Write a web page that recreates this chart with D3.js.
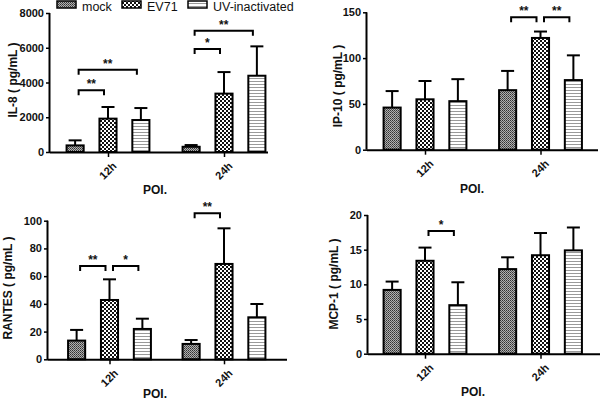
<!DOCTYPE html>
<html><head><meta charset="utf-8">
<script src="https://cdn.jsdelivr.net/npm/d3@7"></script>
<style>
html,body{margin:0;padding:0;background:#fff;}
svg text{font-family:"Liberation Sans",Arial,sans-serif;font-weight:bold;}
</style></head>
<body><svg id="c" width="600" height="400"></svg>
<script>
// ---- data ----
const groups = ["12h", "24h"];
const series = ["mock", "EV71", "UV-inactivated"];
// values [group][series]
const il8Mean  = [[380, 1920, 1840], [300, 3360, 4390]];
const il8Err   = [[670, 2590, 2530], [400, 4600, 6080]];
const ip10Mean = [[46, 55, 53], [65, 122, 76]];
const ip10Err  = [[64, 75, 77], [86, 129, 103]];
const rantesMean = [[13.5, 42.8, 21.9], [11.1, 68.8, 30.3]];
const rantesErr  = [[21.2, 57.7, 29.3], [13.9, 94.5, 39.9]];
const mcpMean = [[9.2, 13.4, 7.0], [12.2, 14.2, 14.9]];
const mcpErr  = [[10.4, 15.3, 10.3], [13.9, 17.4, 18.2]];
const il8Ticks = [0, 2000, 4000, 6000, 8000];
const ip10Ticks = [0, 50, 100, 150];
const rantesTicks = [0, 20, 40, 60, 80, 100];
const mcpTicks = [0, 5, 10, 15, 20];
// significance: [group index, series a, series b, level (data units), label]
const il8Sig = [[0, 0, 1, 3550, "**"], [0, 0, 2, 4740, "**"], [1, 0, 1, 5930, "*"], [1, 0, 2, 6980, "**"]];
const ip10Sig = [[1, 0, 1, 144.5, "**"], [1, 1, 2, 144.5, "**"]];
const rantesSig = [[0, 0, 1, 67.3, "**"], [0, 1, 2, 67.3, "*"], [1, 0, 1, 105.3, "**"]];
const mcpSig = [[0, 1, 2, 17.7, "*"]];
const xTitle = "POI.";

// ---- layout ----
const panels = [
  {title: "IL-8 ( pg/mL )", mean: il8Mean, err: il8Err, ticks: il8Ticks, sig: il8Sig,
   x0: 50, x1: 268, c: [108, 224], y0: 152, y1: 13, ymax: 8000, titleX: 13, titleY: 80, poiX: 155, poiY: 194},
  {title: "IP-10 ( pg/mL )", mean: ip10Mean, err: ip10Err, ticks: ip10Ticks, sig: ip10Sig,
   x0: 367, x1: 598, c: [425, 540.5], y0: 149.7, y1: 12.3, ymax: 150, titleX: 338, titleY: 86, poiX: 472, poiY: 193},
  {title: "RANTES ( pg/mL )", mean: rantesMean, err: rantesErr, ticks: rantesTicks, sig: rantesSig,
   x0: 48, x1: 287, c: [109.5, 224], y0: 359.3, y1: 220.7, ymax: 100, titleX: 8, titleY: 288, poiX: 155, poiY: 398},
  {title: "MCP-1 ( pg/mL )", mean: mcpMean, err: mcpErr, ticks: mcpTicks, sig: mcpSig,
   x0: 368, x1: 600, c: [425, 540.5], y0: 353.7, y1: 215, ymax: 20, titleX: 334, titleY: 284, poiX: 473, poiY: 396}
];

const svg = d3.select("#c");
const defs = svg.append("defs");
// patterns
const pMock = defs.append("pattern").attr("id", "p0").attr("patternUnits", "userSpaceOnUse").attr("width", 2).attr("height", 2);
pMock.append("rect").attr("width", 2).attr("height", 2).attr("fill", "#b0b0b0");
pMock.append("rect").attr("width", 1).attr("height", 1).attr("fill", "#333");
pMock.append("rect").attr("x", 1).attr("y", 1).attr("width", 1).attr("height", 1).attr("fill", "#555");
const pEv = defs.append("pattern").attr("id", "p1").attr("patternUnits", "userSpaceOnUse").attr("width", 4).attr("height", 4);
pEv.append("rect").attr("width", 4).attr("height", 4).attr("fill", "#fff");
pEv.append("rect").attr("width", 2).attr("height", 2).attr("fill", "#111");
pEv.append("rect").attr("x", 2).attr("y", 2).attr("width", 2).attr("height", 2).attr("fill", "#111");
const pUv = defs.append("pattern").attr("id", "p2").attr("patternUnits", "userSpaceOnUse").attr("width", 4).attr("height", 3);
pUv.append("rect").attr("width", 4).attr("height", 3).attr("fill", "#fff");
pUv.append("rect").attr("y", 0).attr("width", 4).attr("height", 1).attr("fill", "#999");
const fills = ["url(#p0)", "url(#p1)", "url(#p2)"];

panels.forEach(p => {
  const g = svg.append("g");
  const y = d3.scaleLinear().domain([0, p.ymax]).range([p.y0, p.y1]);
  const xg = d3.scalePoint().domain(groups).range(p.c);
  const xs = d3.scaleBand().domain(series).range([-48, 48]).paddingInner(0.48).paddingOuter(0.2);
  const cx = (gi, si) => xg(groups[gi]) + xs(series[si]) + xs.bandwidth() / 2;

  // bars
  groups.forEach((gn, gi) => {
    series.forEach((sn, si) => {
      const v = p.mean[gi][si], e = p.err[gi][si];
      const xc = cx(gi, si);
      // error bar
      g.append("line").attr("x1", xc).attr("x2", xc).attr("y1", y(v)).attr("y2", y(e))
        .attr("stroke", "#000").attr("stroke-width", 2);
      g.append("line").attr("x1", xc - 6.5).attr("x2", xc + 6.5).attr("y1", y(e)).attr("y2", y(e))
        .attr("stroke", "#000").attr("stroke-width", 2);
      g.append("rect").attr("x", xg(gn) + xs(sn)).attr("width", xs.bandwidth())
        .attr("y", y(v)).attr("height", y(0) - y(v))
        .attr("fill", fills[si]).attr("stroke", "#000").attr("stroke-width", 2);
    });
  });

  // y axis
  const ya = g.append("g").attr("transform", `translate(${p.x0},0)`)
    .call(d3.axisLeft(y).tickValues(p.ticks).tickSize(4).tickPadding(2).tickFormat(d3.format("d")));
  ya.select(".domain").attr("stroke-width", 2).attr("d", `M-0.5,${p.y0}V${p.y1}`);
  ya.selectAll(".tick line").attr("stroke-width", 1.5);
  ya.selectAll(".tick text").attr("font-size", 11).attr("font-weight", "bold").attr("fill", "#111");

  // x axis
  const xa = g.append("g").attr("transform", `translate(0,${p.y0})`)
    .call(d3.axisBottom(xg).tickSize(5).tickPadding(4));
  xa.select(".domain").attr("stroke-width", 2).attr("d", `M${p.x0},0.5H${p.x1}`);
  xa.selectAll(".tick line").attr("stroke-width", 1.5);
  xa.selectAll(".tick text").attr("font-size", 11).attr("font-weight", "bold").attr("fill", "#111")
    .attr("text-anchor", "end").attr("dy", "0.35em")
    .attr("transform", "translate(6,12) rotate(-45)").attr("y", 0).attr("x", 0);

  // titles
  g.append("text").attr("transform", `translate(${p.titleX},${p.titleY}) rotate(-90)`)
    .attr("text-anchor", "middle").attr("dy", "0.35em").attr("font-size", 12).attr("fill", "#111").text(p.title);
  g.append("text").attr("x", p.poiX).attr("y", p.poiY).attr("text-anchor", "middle")
    .attr("font-size", 12).attr("fill", "#111").text(xTitle);

  // significance brackets
  p.sig.forEach(([gi, a, b, lvl, lab]) => {
    const xa1 = cx(gi, a) + 3.5, xb1 = cx(gi, b) - 4, yy = y(lvl);
    g.append("path").attr("d", `M${xa1},${yy + 5}V${yy}H${xb1}V${yy + 5}`)
      .attr("fill", "none").attr("stroke", "#000").attr("stroke-width", 2);
    g.append("text").attr("x", (xa1 + xb1) / 2).attr("y", yy - 2).attr("text-anchor", "middle")
      .attr("font-size", 12).attr("fill", "#111").text(lab);
  });
});

// legend
const legX = [57, 122, 188];
const leg = svg.append("g");
series.forEach((s, i) => {
  leg.append("rect").attr("x", legX[i]).attr("y", 1).attr("width", 19).attr("height", 7)
    .attr("fill", fills[i]).attr("stroke", "#000").attr("stroke-width", 1.5);
  leg.append("text").attr("x", legX[i] + 25).attr("y", 10.5).attr("font-size", 12.5)
    .style("font-weight", "normal").attr("fill", "#111").text(s);
});
</script></body></html>
